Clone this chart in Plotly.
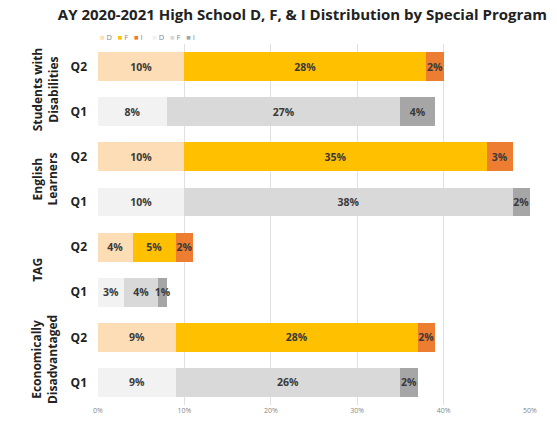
import plotly.graph_objects as go

groups = ["Students with<br>Disabilities", "English<br>Learners", "TAG", "Economically<br>Disadvantaged"]
quarters = ["Q2", "Q1"]
# values per group: Q2 then Q1
q2_D = [10, 10, 4, 9]
q2_F = [28, 35, 5, 28]
q2_I = [2, 3, 2, 2]
q1_D = [8, 10, 3, 9]
q1_F = [27, 38, 4, 26]
q1_I = [4, 2, 1, 2]

q2_pos = [0, 2, 4, 6]
q1_pos = [1, 3, 5, 7]

series = [
    (q2_D, q2_pos, "#FDDDB5", "D"),
    (q2_F, q2_pos, "#FFC000", "F"),
    (q2_I, q2_pos, "#ED7D31", "I"),
    (q1_D, q1_pos, "#F2F2F2", "D"),
    (q1_F, q1_pos, "#D9D9D9", "F"),
    (q1_I, q1_pos, "#A6A6A6", "I"),
]

fig = go.Figure()
for vals, pos, color, name in series:
    fig.add_trace(go.Bar(
        x=vals, y=pos, orientation="h", name=name, width=0.64, showlegend=False,
        marker=dict(color=color, line=dict(width=0)),
        text=[f"<b>{v}%</b>" for v in vals], textposition="inside",
        insidetextanchor="middle", textangle=0,
        textfont=dict(family="Open Sans", size=10.5, color="#3A3A3A"),
    ))

# compact legend as text
parts = []
for i, (_, _, color, name) in enumerate(series):
    sep = "&nbsp;" * 5 if i == 3 else "&nbsp;" * 3
    parts.append((sep if i else "") + f"<span style='color:{color}'>■</span>&nbsp;{name}")
fig.add_annotation(text="".join(parts), x=0.0, xref="paper", xanchor="left",
                   y=1.0 + (44 - 37) / (427 - 44 - 15), yref="paper", showarrow=False,
                   yanchor="middle",
                   font=dict(family="Open Sans", size=7.5, color="#888888"))

for g, (a, b) in zip(groups, zip(q2_pos, q1_pos)):
    fig.add_annotation(text=f"<b>{g}</b>", x=-0.165, xref="paper", y=(a + b) / 2, yref="y",
                       textangle=-90, showarrow=False, align="center",
                       font=dict(family="Open Sans", size=12, color="#222222"))

fig.update_layout(
    width=557, height=427, barmode="stack",
    margin=dict(l=98, r=27, t=44, b=15),
    paper_bgcolor="white", plot_bgcolor="white",
    title=dict(text="<b>AY 2020-2021 High School D, F, & I Distribution by Special Program</b>",
               x=0.543, xanchor="center", y=0.965, yanchor="middle",
               font=dict(family="Open Sans", size=15, color="#222222")),
    uniformtext=dict(minsize=10.5, mode="show"),
    xaxis=dict(range=[0, 50], tickvals=[0, 10, 20, 30, 40, 50],
               ticktext=["0%", "10%", "20%", "30%", "40%", "50%"],
               showgrid=True, gridcolor="#E0E0E0", gridwidth=1, zeroline=False,
               tickfont=dict(family="Open Sans", size=7, color="#888888"), showline=False),
    yaxis=dict(range=[7.5, -0.5], tickvals=q2_pos + q1_pos,
               ticktext=["<b>Q2</b>"] * 4 + ["<b>Q1</b>"] * 4,
               showgrid=False, zeroline=False, ticks="", ticklabelstandoff=10,
               tickfont=dict(family="Open Sans", size=12, color="#222222")),
)
fig.write_html("out.html")
